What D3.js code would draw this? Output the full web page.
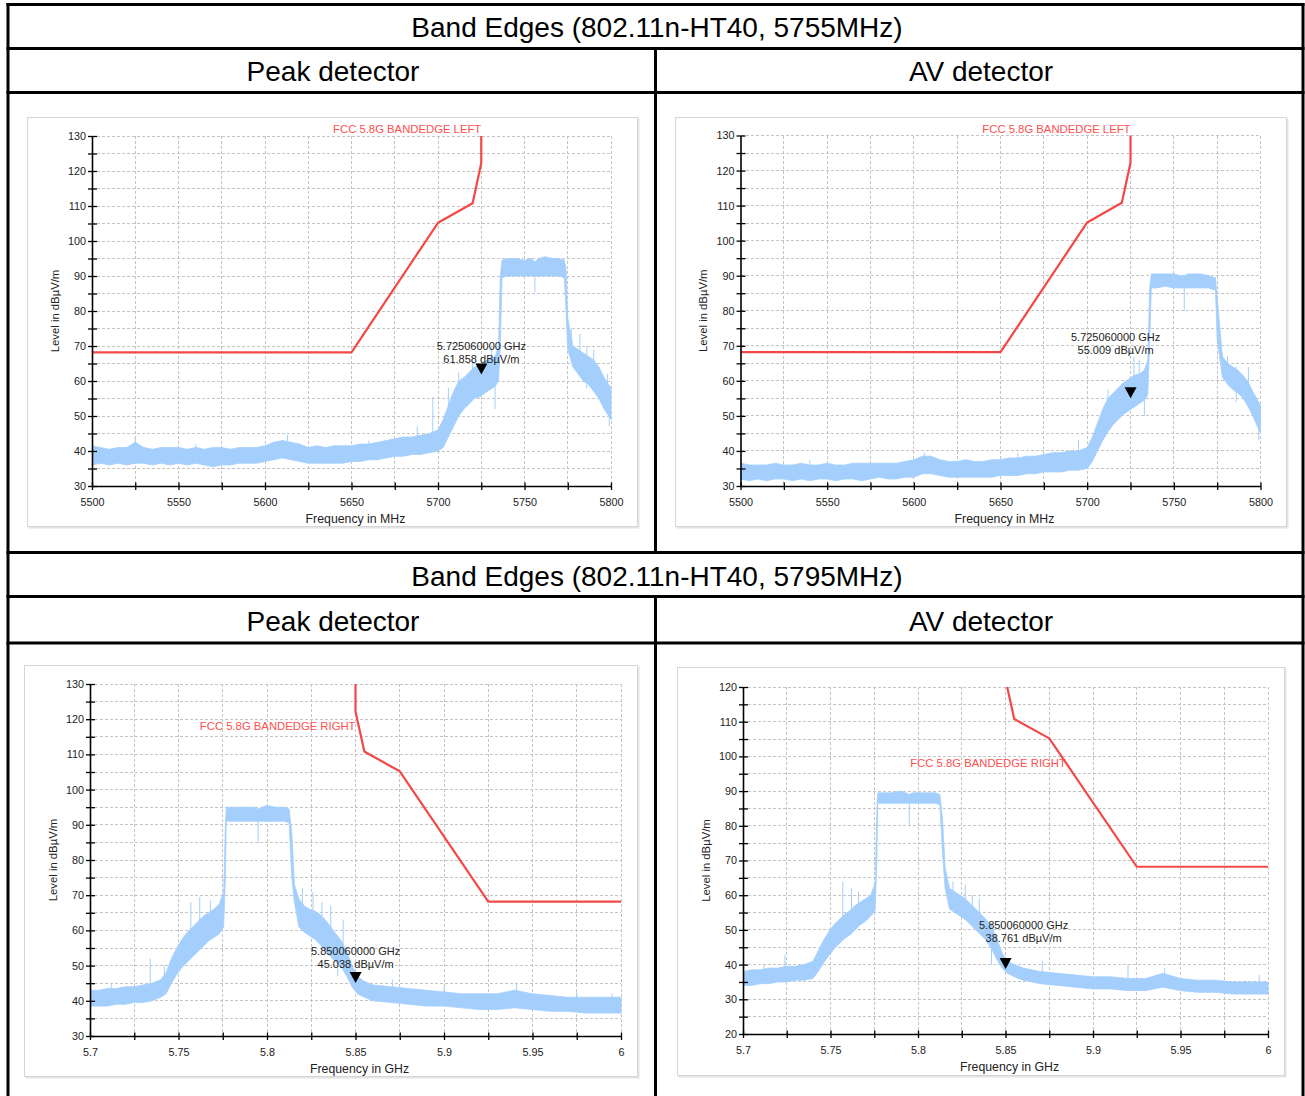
<!DOCTYPE html>
<html>
<head>
<meta charset="utf-8">
<script src="https://cdn.jsdelivr.net/npm/d3@7"></script>
<style>
body { margin: 0; background: #fff; }
svg { display: block; font-family: "Liberation Sans", Arial, sans-serif; }
</style>
</head>
<body>
<div id="chart-area"></div>
<script>
// band edge plots, 802.11n HT40, two channels, peak + AV
// values (lo / hi = edges of the noisy trace)

let tableTitles = ["Band Edges (802.11n-HT40, 5755MHz)", "Band Edges (802.11n-HT40, 5795MHz)"];
let detectorNames = ["Peak detector", "AV detector"];

// ---- 5755MHz, peak (MHz)
let peak5755Freq = [5500, 5505, 5510, 5515, 5520, 5525, 5530, 5535, 5540, 5545, 5550, 5555, 5560, 5565, 5570, 5575, 5580, 5585, 5590, 5595,
    5600, 5605, 5610, 5615, 5620, 5625, 5630, 5635, 5640, 5645, 5650, 5655, 5660, 5665, 5670, 5675, 5680, 5685, 5690, 5695,
    5700, 5703, 5706, 5709, 5712, 5715, 5718, 5721, 5724, 5727, 5730, 5733, 5735, 5736, 5737, 5740, 5745, 5750, 5754, 5756,
    5758, 5762, 5766, 5770, 5773, 5774, 5775, 5778, 5781, 5784, 5787, 5790, 5793, 5796, 5800];
let peak5755Lo = [36, 36.5, 36, 36.5, 36, 36.5, 36.5, 36, 36.5, 36, 36.5, 36, 36.5, 36, 35.5, 36, 36, 36.5, 36.5, 36.5,
    37, 37.5, 38, 37.5, 37, 36.5, 36.5, 36.5, 36.5, 36.5, 37, 37, 37.5, 37.5, 38, 38.5, 38.5, 39, 39, 39.5,
    40, 41, 44, 47, 50, 52, 53.5, 55, 55.5, 56.5, 57.5, 58.5, 60, 70, 89.5, 90, 90, 90, 90, 90,
    90, 90, 90, 90, 89.5, 80, 69, 64, 62, 60, 59, 57, 55, 52, 49];
let peak5755Hi = [41.5, 41, 40.5, 41, 41, 42.5, 41, 40.5, 41, 41, 41, 40.5, 41, 40.5, 41, 41, 40.5, 41, 41, 41,
    41.5, 42.5, 43, 42.5, 42, 41, 41.5, 41, 41.5, 41.5, 41.5, 42, 42, 42.5, 43, 43.5, 44, 44, 44.5, 45,
    46, 49, 53, 57, 60, 61, 62.5, 64, 64.5, 65.5, 66.5, 67, 70, 90, 94.5, 95, 95, 94.5, 95, 94,
    95, 95.5, 95, 95, 94.5, 92, 78, 70, 69, 68, 67, 66, 64, 61, 58];
let peak5755Spikes = [[5525, 39, 44], [5613, 40, 44.5], [5560, 40, 42], [5660, 41, 43], [5688, 43, 47], [5697, 42, 55.5],
    [5706, 50, 58], [5712, 56, 62.5], [5720, 60, 66], [5731, 62, 70], [5733, 52, 60],
    [5756, 85.4, 91], [5777, 68, 75], [5782, 66, 73.5], [5786, 58, 70], [5790, 62, 69], [5798, 55, 62], [5799, 47, 52]];

// ---- 5755MHz, AV (MHz)
let av5755Freq = peak5755Freq;
let av5755Lo = [32, 31.5, 32, 31.5, 32, 32, 31.5, 32, 31.5, 32, 32, 31.5, 32, 32, 31.5, 32, 32.5, 32, 32, 32.5,
    32.5, 33.5, 33.5, 33, 32.5, 32.5, 32.5, 32.5, 32.5, 32.5, 33, 33, 33, 33.5, 33.5, 34, 34, 34, 34.5, 34.5,
    35, 37, 40, 43, 45.5, 47.5, 49, 50.5, 51.5, 52.5, 53.5, 54.5, 56, 70, 86.5, 86.5, 87, 86.5, 86.5, 86.5,
    86.5, 86.5, 86.5, 86.5, 86, 86, 72, 61, 59, 57.5, 56.5, 55, 52.5, 49.5, 45];
let av5755Hi = [36.5, 36, 36, 36, 36.5, 36, 36, 36.5, 36, 36, 36.5, 36, 36, 36.5, 36.5, 36.5, 36.5, 36.5, 36.5, 37,
    37.5, 38.5, 38.5, 37.5, 37, 37, 37.5, 37, 37, 37.5, 37.5, 38, 38, 38.5, 38.5, 39, 39.5, 39.5, 40, 40,
    41, 44, 48, 52, 55, 56.5, 58, 59.5, 60.5, 61.5, 62, 63, 66, 86, 90.5, 90.5, 90.5, 90.5, 90, 90,
    90.5, 90.5, 90.5, 90, 89.5, 89.5, 84, 67, 65, 64, 63, 61.5, 59.5, 56.5, 53];
let av5755Spikes = [[5606, 36, 39.5], [5540, 35, 37.5], [5660, 37, 39.5], [5695, 38, 43], [5712, 52, 57.5], [5727, 58, 67],
    [5730, 58, 66], [5733, 50, 57], [5756, 80, 87.5], [5778, 63, 68], [5781, 62, 67], [5786, 54, 64], [5793, 56, 64], [5799, 43, 50]];

// ---- 5795MHz, peak (GHz)
let peak5795Freq = [5.700, 5.705, 5.710, 5.715, 5.720, 5.725, 5.730, 5.735, 5.740, 5.743, 5.746, 5.749, 5.752, 5.755, 5.758,
    5.761, 5.764, 5.767, 5.770, 5.773, 5.7755, 5.7765, 5.777, 5.780, 5.785, 5.790, 5.793, 5.795, 5.797, 5.800,
    5.805, 5.810, 5.8125, 5.814, 5.8155, 5.818, 5.821, 5.824, 5.827, 5.830, 5.833, 5.836, 5.839, 5.842, 5.845,
    5.848, 5.851, 5.855, 5.860, 5.870, 5.880, 5.890, 5.900, 5.910, 5.920, 5.930, 5.940, 5.950, 5.960, 5.970,
    5.980, 5.990, 6.000];
let peak5795Lo = [38.5, 38.5, 38.5, 39, 39, 39.5, 39.5, 40, 41, 42, 45, 47.5, 49.5, 51, 52.5,
    54, 55.5, 57, 58, 59, 61, 75, 91, 91, 91, 91, 91, 91, 91, 91,
    91, 91, 90.5, 75, 68, 61, 59.5, 58.5, 57.5, 56, 54, 52.5, 51, 49.5, 47,
    44, 42, 41, 40, 39.5, 39, 38.5, 38.5, 38, 37.5, 37.5, 38, 37.5, 37, 37,
    36.5, 36.5, 36.5];
let peak5795Hi = [43, 43, 43.5, 43.5, 44, 44, 44.5, 45, 46, 48, 52, 55, 57.5, 59.5, 61,
    62.5, 64, 65, 66, 67.5, 71, 90, 95, 95, 95, 95, 95, 94.5, 95, 95.5,
    95, 95, 94.5, 88, 73, 69, 67, 66, 65.5, 64.5, 63, 61, 59, 57, 54,
    50, 47, 45.5, 44.5, 44, 43.5, 43, 42.5, 42, 42, 42, 43, 42, 41.5, 41,
    41, 41, 41];
let peak5795Spikes = [[5.712, 40, 45], [5.734, 43, 52], [5.742, 44, 50], [5.757, 58, 68], [5.762, 60, 69.5], [5.768, 62, 68.5],
    [5.795, 84.7, 92], [5.820, 64, 72], [5.826, 62, 71], [5.831, 58, 68], [5.836, 57, 67], [5.843, 52, 63], [5.840, 47, 53],
    [5.871, 42, 46], [5.900, 40, 44], [5.941, 40, 45], [5.975, 39, 42.5], [5.995, 37, 42]];

// ---- 5795MHz, AV (GHz)
let av5795Freq = peak5795Freq;
let av5795Lo = [34, 34, 34.5, 34.5, 35, 35, 35.5, 35.5, 36, 38, 40.5, 42.5, 44.5, 46, 47.5,
    48.5, 50, 51.5, 52.5, 54, 55.5, 70, 86.5, 86.5, 86.5, 86.5, 86.5, 86.5, 86.5, 86.5,
    86.5, 86.5, 86, 72, 62, 56, 55, 54, 53, 51.5, 50, 48.5, 47, 44.5, 41.5,
    39, 37.5, 36.5, 35.5, 34.5, 34, 33.5, 33, 33, 32.5, 32.5, 33.5, 32.5, 32, 32,
    31.5, 31.5, 31.5];
let av5795Hi = [38, 38.5, 38.5, 39, 39, 39.5, 39.5, 40, 41, 44, 47, 49.5, 51.5, 53, 54.5,
    55.5, 57, 58, 59, 60, 63.5, 85, 89.5, 89.5, 89.5, 90, 89.5, 89, 89.5, 89.5,
    89.5, 89.5, 89, 82, 68, 62, 61, 60, 59, 57.5, 56, 54.5, 53, 51, 47.5,
    43.5, 41, 40, 39, 38, 37.5, 37, 36.5, 36.5, 36, 36, 37.5, 36, 35.5, 35.5,
    35, 35, 35];
let av5795Spikes = [[5.712, 36, 40], [5.724, 37, 42.8], [5.757, 52, 63.9], [5.762, 54, 62], [5.766, 56, 61], [5.795, 80.2, 87.5],
    [5.820, 58, 64], [5.827, 56, 63], [5.831, 52, 60], [5.835, 52, 59], [5.842, 40, 52], [5.871, 36, 41],
    [5.920, 34, 40], [5.941, 35, 39], [5.995, 33, 37]];

// FCC 15.407 limit masks
let limitLeftFreq = [5500, 5650, 5700, 5720, 5725, 5725];
let limitLeftLevel = [68.2, 68.2, 105.2, 110.8, 122.2, 140];
let limitRightFreq = [5.850, 5.850, 5.855, 5.875, 5.925, 6.000];
let limitRightLevel = [140, 122.2, 110.8, 105.2, 68.2, 68.2];

// markers
let markerFreqs = [5725.06, 5725.06, 5.85006, 5.85006];
let markerLevels = [61.858, 55.009, 45.038, 38.761];
let markerFreqText = ["5.725060000 GHz", "5.725060000 GHz", "5.850060000 GHz", "5.850060000 GHz"];
let markerLevelText = ["61.858 dBµV/m", "55.009 dBµV/m", "45.038 dBµV/m", "38.761 dBµV/m"];

let traceColor = "#a4cffd";

let svg = d3.select("#chart-area").append("svg")
    .attr("width", 1305)
    .attr("height", 1096);

svg.append("rect").attr("width", 1305).attr("height", 1096).attr("fill", "#fff");

// ---------- table grid
let colX = [8, 655.5, 1303];
let rowY = [4.5, 48.5, 92.5, 552.5, 596.5, 643];

let grid = svg.append("g").attr("stroke", "#000").attr("stroke-width", 3);
rowY.forEach(y => grid.append("line").attr("x1", colX[0] - 1.5).attr("x2", colX[2] + 1.5).attr("y1", y).attr("y2", y));
grid.append("line").attr("x1", colX[0]).attr("x2", colX[0]).attr("y1", rowY[0] - 1.5).attr("y2", 1096);
grid.append("line").attr("x1", colX[2]).attr("x2", colX[2]).attr("y1", rowY[0] - 1.5).attr("y2", 1096);
[[rowY[1], rowY[3]], [rowY[4], 1096]].forEach(r => {
    grid.append("line").attr("x1", colX[1]).attr("x2", colX[1]).attr("y1", r[0]).attr("y2", r[1]);
});

let headTexts = [
    {t: tableTitles[0], x: 657, y: 27},
    {t: detectorNames[0], x: 333, y: 71},
    {t: detectorNames[1], x: 981, y: 71},
    {t: tableTitles[1], x: 657, y: 576},
    {t: detectorNames[0], x: 333, y: 620.5},
    {t: detectorNames[1], x: 981, y: 620.5}
];
svg.selectAll(".head").data(headTexts).enter().append("text")
    .attr("class", "head")
    .attr("x", d => d.x)
    .attr("y", d => d.y)
    .attr("dy", "0.36em")
    .attr("text-anchor", "middle")
    .attr("font-size", 28)
    .attr("fill", "#000")
    .text(d => d.t);

// ---------- the 4 analyzer plots
let panels = [
    {frame: [27, 117, 638, 527], plot: [92, 136, 611, 486], x: [5500, 5800], y: [30, 130], ghz: false,
        freq: peak5755Freq, lo: peak5755Lo, hi: peak5755Hi, spikes: peak5755Spikes,
        limF: limitLeftFreq, limL: limitLeftLevel, limText: "FCC 5.8G BANDEDGE LEFT", limAt: [5725, null],
        mk: 0, mkOff: [0, -28.5]},
    {frame: [675, 117, 1287, 527], plot: [740.5, 135.5, 1260.5, 486], x: [5500, 5800], y: [30, 130], ghz: false,
        freq: av5755Freq, lo: av5755Lo, hi: av5755Hi, spikes: av5755Spikes,
        limF: limitLeftFreq, limL: limitLeftLevel, limText: "FCC 5.8G BANDEDGE LEFT", limAt: [5725, null],
        mk: 1, mkOff: [-15, -61.5]},
    {frame: [24, 665, 638, 1077], plot: [90, 684, 621, 1036], x: [5.7, 6.0], y: [30, 130], ghz: true,
        freq: peak5795Freq, lo: peak5795Lo, hi: peak5795Hi, spikes: peak5795Spikes,
        limF: limitRightFreq, limL: limitRightLevel, limText: "FCC 5.8G BANDEDGE RIGHT", limAt: [5.85, 118],
        mk: 2, mkOff: [0, -32]},
    {frame: [677, 667, 1285, 1076], plot: [743, 687, 1268, 1034], x: [5.7, 6.0], y: [20, 120], ghz: true,
        freq: av5795Freq, lo: av5795Lo, hi: av5795Hi, spikes: av5795Spikes,
        limF: limitRightFreq, limL: limitRightLevel, limText: "FCC 5.8G BANDEDGE RIGHT", limAt: [5.8845, 98.2],
        mk: 3, mkOff: [18, -44]}
];

panels.forEach((p, i) => drawPanel(p, i));

function drawPanel(p, i) {
    let f = p.frame;
    // frame with a light shadow
    svg.append("rect")
        .attr("x", f[0] + 1.5).attr("y", f[1] + 1.5)
        .attr("width", f[2] - f[0]).attr("height", f[3] - f[1])
        .attr("fill", "#e4e4e4");
    svg.append("rect")
        .attr("x", f[0] + 0.5).attr("y", f[1] + 0.5)
        .attr("width", f[2] - f[0] - 1).attr("height", f[3] - f[1] - 1)
        .attr("fill", "#fff")
        .attr("stroke", "#d6d6d6");

    let pl = p.plot;
    let w = pl[2] - pl[0], h = pl[3] - pl[1];
    let g = svg.append("g").attr("transform", "translate(" + pl[0] + "," + pl[1] + ")");

    let x = d3.scaleLinear().domain(p.x).range([0, w]);
    let y = d3.scaleLinear().domain(p.y).range([h, 0]);

    // ticks every 25 MHz / 5 dB
    let nx = 12;
    let xStart = p.ghz ? 5700 : 5500;
    let xTicks = d3.range(0, nx + 1).map(k => p.ghz ? (xStart + k * 25) / 1000 : xStart + k * 25);
    let yTicks = d3.range(p.y[0], p.y[1] + 1, 5);

    // dashed grid
    let gridG = g.append("g")
        .attr("stroke", "#c4c4c4")
        .attr("stroke-width", 1)
        .attr("stroke-dasharray", "3,2")
        .attr("shape-rendering", "crispEdges");
    gridG.selectAll(".gx").data(xTicks.slice(1)).enter().append("line")
        .attr("x1", d => x(d)).attr("x2", d => x(d))
        .attr("y1", 0).attr("y2", h);
    gridG.selectAll(".gy").data(yTicks.slice(1)).enter().append("line")
        .attr("x1", 0).attr("x2", w)
        .attr("y1", d => y(d)).attr("y2", d => y(d));

    let clipId = "clip" + i;
    g.append("clipPath").attr("id", clipId)
        .append("rect").attr("width", w + 1).attr("height", h);
    let inner = g.append("g").attr("clip-path", "url(#" + clipId + ")");

    // trace (light blue band)
    let rows = p.freq.map((fr, k) => ({f: fr, lo: p.lo[k], hi: p.hi[k]}));
    let area = d3.area()
        .x(d => x(d.f))
        .y0(d => y(d.lo))
        .y1(d => y(d.hi));
    inner.append("path")
        .datum(rows)
        .attr("d", area)
        .attr("fill", traceColor)
        .attr("stroke", traceColor)
        .attr("stroke-width", 0.8);
    inner.selectAll(".spike").data(p.spikes).enter().append("line")
        .attr("class", "spike")
        .attr("x1", d => x(d[0])).attr("x2", d => x(d[0]))
        .attr("y1", d => y(d[1])).attr("y2", d => y(d[2]))
        .attr("stroke", traceColor)
        .attr("stroke-width", 1);

    // limit line
    let limRows = p.limF.map((fr, k) => ({f: fr, v: p.limL[k]}));
    inner.append("path")
        .datum(limRows)
        .attr("d", d3.line().x(d => x(d.f)).y(d => y(d.v)))
        .attr("fill", "none")
        .attr("stroke", "#f44848")
        .attr("stroke-width", 2.2)
        .attr("stroke-linejoin", "round");

    g.append("text")
        .attr("x", x(p.limAt[0]))
        .attr("y", p.limAt[1] == null ? -3 : y(p.limAt[1]))
        .attr("dy", p.limAt[1] == null ? 0 : "0.35em")
        .attr("text-anchor", "end")
        .attr("font-size", 11.3)
        .attr("fill", "#ff5050")
        .text(p.limText);

    // axes
    let xAxis = d3.axisBottom(x)
        .tickValues(xTicks)
        .tickSizeInner(4)
        .tickSizeOuter(0)
        .tickPadding(8)
        .tickFormat((d, k) => k % 2 === 0 ? String(d) : "");
    let yAxis = d3.axisLeft(y)
        .tickValues(yTicks)
        .tickSizeInner(4)
        .tickSizeOuter(0)
        .tickPadding(2)
        .tickFormat(d => d % 10 === 0 ? d : "");

    let xg = g.append("g")
        .attr("transform", "translate(0," + h + ")")
        .call(xAxis);
    xg.selectAll(".tick line").attr("y1", -3.5);

    let yg = g.append("g").call(yAxis);
    yg.selectAll(".tick line").attr("x1", 5);

    [xg, yg].forEach(a => {
        a.select(".domain").attr("stroke", "#000").attr("stroke-width", 1.6);
        a.selectAll(".tick line").attr("stroke", "#000").attr("stroke-width", 1.3);
        a.selectAll(".tick text")
            .attr("font-family", "Liberation Sans, Arial, sans-serif")
            .attr("font-size", 10.8)
            .attr("fill", "#222");
    });

    g.append("text")
        .attr("x", w / 2 + 4)
        .attr("y", h + 37)
        .attr("text-anchor", "middle")
        .attr("font-size", 12.3)
        .attr("fill", "#222")
        .text(p.ghz ? "Frequency in GHz" : "Frequency in MHz");

    g.append("text")
        .attr("transform", "translate(-37," + (h / 2) + ") rotate(-90)")
        .attr("dy", "0.35em")
        .attr("text-anchor", "middle")
        .attr("font-size", 11.3)
        .attr("fill", "#222")
        .text("Level in dBµV/m");

    // marker
    let m = p.mk;
    let mx = x(markerFreqs[m]), my = y(markerLevels[m]);
    g.append("path")
        .attr("d", "M" + (mx - 6) + "," + (my - 11) + "L" + (mx + 6) + "," + (my - 11) + "L" + mx + "," + my + "Z")
        .attr("fill", "#000");
    let lbl = g.append("text")
        .attr("text-anchor", "middle")
        .attr("font-size", 11)
        .attr("fill", "#222");
    lbl.append("tspan")
        .attr("x", mx + p.mkOff[0])
        .attr("y", my + p.mkOff[1])
        .attr("dy", "0.35em")
        .text(markerFreqText[m]);
    lbl.append("tspan")
        .attr("x", mx + p.mkOff[0])
        .attr("y", my + p.mkOff[1] + 13)
        .attr("dy", "0.35em")
        .text(markerLevelText[m]);
}
</script>
</body>
</html>
